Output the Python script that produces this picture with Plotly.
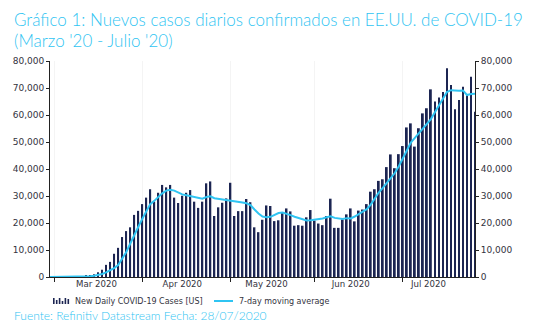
import numpy as np
import pandas as pd
import plotly.graph_objects as go

# Weekday series (Datastream style: one point per business day)
dates = pd.bdate_range("2020-02-28", "2020-07-27")

new_cases = [
    10,                                   # Feb 28
    20, 30, 40, 70, 80,                   # Mar 2-6
    170, 220, 300, 400, 550,              # Mar 9-13
    1000, 1750, 2700, 4500, 5600,         # Mar 16-20
    8600, 10800, 14800, 17000, 18400,     # Mar 23-27
    23000, 24500, 27000, 29400, 32500,    # Mar 30 - Apr 3
    27900, 31200, 34100, 33200, 34100,    # Apr 6-10
    29400, 27400, 30100, 31200, 32200,    # Apr 13-17
    27900, 25600, 27900, 34700, 35400,    # Apr 20-24
    22600, 25800, 27500, 29100, 34900,    # Apr 27 - May 1
    22600, 24400, 24400, 28900, 27700,    # May 4-8
    18400, 16600, 21200, 26500, 26300,    # May 11-15
    20700, 21000, 23700, 25400, 24300,    # May 18-22
    19000, 19200, 19000, 22100, 24800,    # May 25-29
    20900, 19800, 19200, 22600, 29000,    # Jun 1-5
    18200, 18200, 21300, 23200, 25400,    # Jun 8-12
    20600, 24600, 25000, 27000, 31600,    # Jun 15-19
    32500, 35600, 36200, 40700, 45400,    # Jun 22-26
    40300, 45500, 48500, 55400, 56900,    # Jun 29 - Jul 3
    48300, 55100, 60600, 62500, 69500,    # Jul 6-10
    65000, 66500, 68500, 77300, 71100,    # Jul 13-17
    62100, 65600, 70500, 67400, 74200,    # Jul 20-24
    61200,                                # Jul 27
]

ma7 = [
    0,
    10, 15, 20, 30, 40,
    70, 100, 140, 200, 280,
    450, 700, 1100, 1700, 2400,
    3300, 4400, 6700, 9200, 12300,
    15600, 18500, 21500, 24000, 27000,
    28200, 29700, 31000, 32000, 32300,
    32000, 31200, 30600, 30300, 30000,
    29600, 29200, 29000, 29600, 29900,
    29200, 29000, 28700, 28400, 28200,
    28000, 27800, 27600, 27300, 26600,
    25000, 23500, 22400, 22100, 22300,
    22900, 23700, 23900, 23500, 22900,
    22300, 21800, 21200, 20900, 21000,
    21200, 21500, 21700, 22100, 22500,
    21900, 21600, 21500, 21800, 21700,
    22400, 23400, 24200, 25100, 26800,
    29000, 31300, 33000, 34900, 36600,
    38500, 41000, 44000, 47000, 49800,
    51500, 53200, 54800, 56500, 58500,
    61000, 63500, 66200, 68500, 69200,
    69000, 69000, 69100, 67400, 67800,
    67900,
]

month_labels = ["Mar 2020", "Apr 2020", "May 2020", "Jun 2020", "Jul 2020"]
bar_name = "New Daily COVID-19 Cases [US]"
line_name = "7-day moving average"

NAVY = "#1c2552"
CYAN = "#2fc4f2"
TEXT = "#333340"

x = np.arange(len(dates))
months = np.asarray(dates.month)
month_start = [int(i) for i in range(1, len(dates)) if months[i] != months[i - 1]]

# month names sit a little inside each month's span, drifting left toward summer
label_offset = [10.6, 10.0, 9.0, 9.0, 6.4]
label_pos = [s + o for s, o in zip(month_start, label_offset)]

xr = [0, len(dates) - 1]

fig = go.Figure()
fig.add_trace(go.Bar(x=x, y=new_cases, name=bar_name, marker_color=NAVY,
                     marker_line_width=0, xaxis="x", yaxis="y",
                     showlegend=False))
fig.add_trace(go.Scatter(x=x, y=ma7, name=line_name, mode="lines",
                         line=dict(color=CYAN, width=2), xaxis="x2", yaxis="y2",
                         showlegend=False))

axis_font = dict(family="DejaVu Sans", size=9, color=TEXT)

# plot area in pixels: x 50..475, y 61..277
L, R, T, B = 50, 475, 61, 277
W, H = R - L, B - T


def px(xp):
    return (xp - L) / W


def py(yp):
    return (B - yp) / H


shapes = []
# legend glyph for the bar series
glyph_h = [6, 4, 6, 3, 6, 5]
for i, h in enumerate(glyph_h):
    x0 = 53 + i * 2.9
    shapes.append(dict(type="rect", xref="paper", yref="paper",
                       x0=px(x0), x1=px(x0 + 1.6), y0=py(304), y1=py(304 - h),
                       fillcolor=NAVY, line_width=0))
# legend glyph for the line series
shapes.append(dict(type="line", xref="paper", yref="paper",
                   x0=px(214), x1=px(233), y0=py(301), y1=py(301),
                   line=dict(color=CYAN, width=2)))

title_font = dict(family="Lato", size=17, color=CYAN, weight=300)

annotations = [
    dict(text="Gráfico 1: Nuevos casos diarios confirmados en EE.UU. de COVID-19",
         xref="paper", yref="paper", x=px(12), y=py(19.5), xanchor="left",
         yanchor="middle", showarrow=False, font=title_font),
    dict(text="(Marzo '20 - Julio '20)",
         xref="paper", yref="paper", x=px(12), y=py(40.5), xanchor="left",
         yanchor="middle", showarrow=False, font=title_font),
    dict(text="Fuente: Refinitiv Datastream Fecha: 28/07/2020",
         xref="paper", yref="paper", x=px(12), y=py(315.5), xanchor="left",
         yanchor="middle", showarrow=False,
         font=dict(family="Lato", size=12, color=CYAN, weight=300)),
    dict(text=bar_name, xref="paper", yref="paper", x=px(73), y=py(301),
         xanchor="left", yanchor="middle", showarrow=False,
         font=dict(family="DejaVu Sans", size=8, color=TEXT)),
    dict(text=line_name, xref="paper", yref="paper", x=px(237), y=py(301),
         xanchor="left", yanchor="middle", showarrow=False,
         font=dict(family="DejaVu Sans", size=8, color=TEXT)),
]

fig.update_layout(
    width=535, height=328,
    margin=dict(l=L, r=535 - R, t=T, b=328 - B, pad=0),
    paper_bgcolor="white", plot_bgcolor="white",
    bargap=0.55,
    showlegend=False,
    xaxis=dict(range=xr, tickmode="array", tickvals=month_start,
               showticklabels=False, ticks="outside", ticklen=4, tickwidth=1,
               tickcolor="#222", showline=True, linecolor="#222", linewidth=1,
               showgrid=True, gridcolor="#f4f4f4", zeroline=False),
    xaxis2=dict(range=xr, overlaying="x", side="bottom", anchor="y2",
                tickmode="array", tickvals=label_pos, ticktext=month_labels,
                ticks="", showline=False, showgrid=False, zeroline=False,
                tickfont=dict(family="DejaVu Sans", size=8.6, color=TEXT)),
    yaxis=dict(range=[0, 80000], dtick=10000, tickformat=",", side="left",
               ticks="outside", ticklen=3, tickcolor="#222", showline=True,
               linecolor="#222", linewidth=1, showgrid=False, zeroline=False,
               tickfont=axis_font),
    yaxis2=dict(range=[0, 80000], dtick=10000, tickformat=",", side="right",
                overlaying="y", anchor="x", ticks="outside", ticklen=3,
                tickcolor="#222", showline=True, linecolor="#222", linewidth=1,
                showgrid=False, zeroline=False, tickfont=axis_font),
    shapes=shapes,
    annotations=annotations,
)

fig.write_html("out.html")
